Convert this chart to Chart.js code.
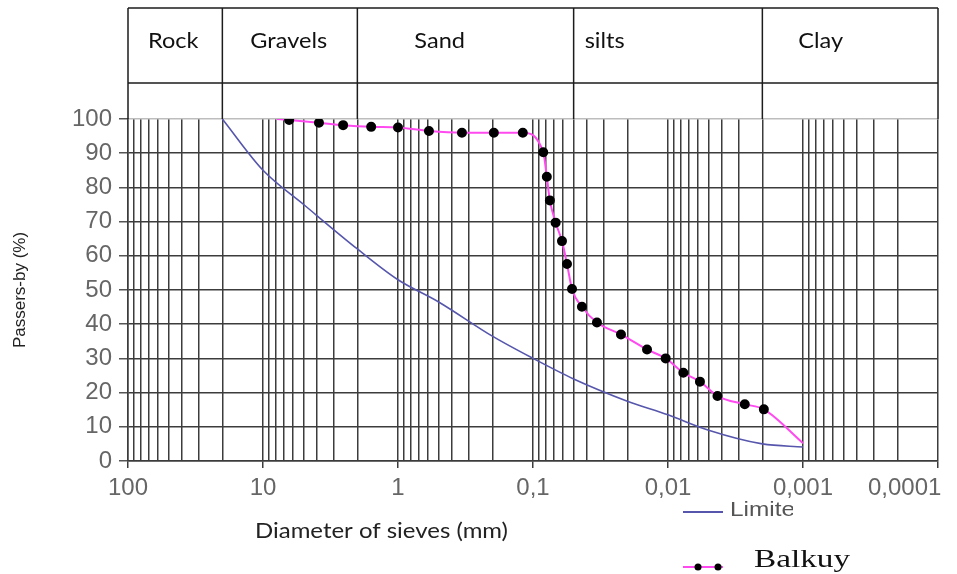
<!DOCTYPE html>
<html>
<head>
<meta charset="utf-8">
<script src="https://cdn.jsdelivr.net/npm/chart.js@4.4.1/dist/chart.umd.min.js"></script>
<style>
  html, body { margin: 0; padding: 0; background: #fff; }
  #wrap { width: 957px; height: 574px; }
</style>
</head>
<body>
<div id="wrap"><canvas id="grainChart" width="957" height="574"></canvas></div>
<script>
// sieve diameter (mm) and passing (%)
const balkuyDiam = [7.9, 6.4, 3.85, 2.55, 1.58, 1.0, 0.59, 0.336, 0.195, 0.119, 0.084, 0.079, 0.075, 0.068, 0.061, 0.056, 0.0514, 0.0434, 0.0336, 0.0223, 0.0143, 0.0104, 0.0077, 0.0058, 0.0043, 0.0027, 0.00195, 0.001];
const balkuyPass = [100, 99.7, 98.9, 98.2, 97.7, 97.5, 96.5, 96.0, 96.0, 96.0, 90.3, 83.1, 76.2, 69.7, 64.3, 57.6, 50.3, 45.1, 40.5, 37.0, 32.6, 30.0, 25.8, 23.2, 19.0, 16.6, 15.1, 5.2];

const limitDiam = [20, 10, 5, 2, 1, 0.5, 0.2, 0.1, 0.05, 0.02, 0.01, 0.005, 0.002, 0.001];
const limitPass = [100, 85, 75, 62, 53, 46.5, 36.5, 30, 24, 17.5, 13.5, 9, 5, 4.1];

const decadeValues = [100, 10, 1, 0.1, 0.01, 0.001, 0.0001];
const xTickLabels = ['100', '10', '1', '0,1', '0,01', '0,001', '0,0001'];

const zoneLabels = ['Rock', 'Gravels', 'Sand', 'silts', 'Clay'];
const zoneBounds = [100, 20, 2, 0.05, 0.002, 0.0001];

const legendLabels = ['Limite fuseau', 'Balkuy'];

// text inset of each zone label from its column's left edge (px)
const zoneInset = [20, 28, 57, 11, 36];

const BLUE = '#5656ad';
const PINK = '#ff4af0';
const GRID = '#3c3c3c';

function isDecade(v) {
  return decadeValues.findIndex(d => Math.abs(v - d) / d < 1e-6);
}

function logGridTicks() {
  const out = [];
  for (let e = -4; e <= 1; e++) {
    for (let m = 1; m <= 9; m++) {
      out.push({ value: Number((m * Math.pow(10, e)).toPrecision(6)) });
    }
  }
  out.push({ value: 100 });
  return out;
}

const toPoints = (xs, ys) => xs.map((x, i) => ({ x: x, y: ys[i] }));

// the source image is stretched sideways, so text drawn here gets a horizontal scale
function wideText(ctx, text, x, y, sx) {
  ctx.save();
  ctx.translate(x, y);
  ctx.scale(sx, 1);
  ctx.fillText(text, 0, 0);
  ctx.restore();
}

const headerPlugin = {
  id: 'soilHeader',
  afterDraw(chart) {
    const ctx = chart.ctx;
    const xs = chart.scales.x;
    const top = 8, mid = 83, bottom = chart.chartArea.top;
    const xPos = zoneBounds.map(v => xs.getPixelForValue(v));
    const first = xPos[0], last = xPos[xPos.length - 1];

    ctx.save();
    ctx.strokeStyle = '#1c1c1c';
    ctx.lineWidth = 1.5;
    ctx.beginPath();
    ctx.moveTo(first, top); ctx.lineTo(last, top);
    ctx.moveTo(first, mid); ctx.lineTo(last, mid);
    xPos.forEach(x => { ctx.moveTo(x, top); ctx.lineTo(x, bottom); });
    ctx.stroke();

    ctx.fillStyle = '#111';
    ctx.font = '21px Lato, "Open Sans", sans-serif';
    ctx.textBaseline = 'middle';
    ctx.textAlign = 'left';
    zoneLabels.forEach((t, i) => wideText(ctx, t, xPos[i] + zoneInset[i], 41, 1.12));

    // x axis title, sits left of centre like the original
    const xTitle = 'Diameter of sieves (mm)';
    ctx.fillStyle = '#222';
    ctx.font = '21px Lato, "Open Sans", sans-serif';
    wideText(ctx, xTitle, 255, 531, 253 / ctx.measureText(xTitle).width);

    // legend: first entry is cut off in the source figure
    ctx.strokeStyle = BLUE;
    ctx.lineWidth = 2;
    ctx.beginPath();
    ctx.moveTo(683, 512); ctx.lineTo(723, 512);
    ctx.stroke();

    const words = legendLabels[0].split(' ');
    ctx.save();
    ctx.beginPath();
    ctx.rect(680, 496, 113, 32);
    ctx.clip();
    ctx.fillStyle = '#555';
    ctx.font = '21px "Liberation Sans", Arial, sans-serif';
    wideText(ctx, words[0], 730, 510, 1.16);
    ctx.fillStyle = '#aaa';
    wideText(ctx, words[1], 730, 539, 1.16);
    ctx.restore();

    ctx.strokeStyle = PINK;
    ctx.lineWidth = 2;
    ctx.beginPath();
    ctx.moveTo(683, 567); ctx.lineTo(723, 567);
    ctx.stroke();
    ctx.fillStyle = '#000';
    [698, 718].forEach(x => {
      ctx.beginPath();
      ctx.arc(x, 567, 3.5, 0, Math.PI * 2);
      ctx.fill();
    });
    ctx.font = '26px "Liberation Serif", "Times New Roman", serif';
    ctx.fillStyle = '#111';
    ctx.textBaseline = 'alphabetic';
    wideText(ctx, legendLabels[1], 754, 567, 1.28);
    ctx.restore();
  }
};

const tickFont = { family: '"Liberation Sans", Arial, sans-serif', size: 24 };

new Chart(document.getElementById('grainChart').getContext('2d'), {
  type: 'line',
  data: {
    datasets: [
      {
        label: legendLabels[0],
        data: toPoints(limitDiam, limitPass),
        borderColor: BLUE,
        borderWidth: 1.6,
        pointRadius: 0,
        cubicInterpolationMode: 'monotone',
        fill: false
      },
      {
        label: legendLabels[1],
        data: toPoints(balkuyDiam, balkuyPass),
        borderColor: PINK,
        borderWidth: 2,
        backgroundColor: '#000',
        pointBackgroundColor: '#000',
        pointBorderColor: '#000',
        pointRadius: balkuyDiam.map((d, i) => (i === 0 || i === balkuyDiam.length - 1) ? 0 : 4),
        cubicInterpolationMode: 'monotone',
        fill: false
      }
    ]
  },
  options: {
    responsive: false,
    animation: false,
    events: [],
    layout: { padding: { top: 119, right: 19, left: 0, bottom: 0 } },
    plugins: {
      legend: { display: false },
      tooltip: { enabled: false }
    },
    scales: {
      x: {
        type: 'logarithmic',
        reverse: true,
        min: 0.0001,
        max: 100,
        afterBuildTicks: scale => { scale.ticks = logGridTicks(); },
        afterFit: scale => {
          scale.height = 113;
          scale.paddingLeft = 0;
          scale.paddingRight = 0;
        },
        ticks: {
          autoSkip: false,
          maxRotation: 0,
          minRotation: 0,
          padding: 6,
          color: '#666',
          font: tickFont,
          callback: value => {
            const i = isDecade(value);
            if (i < 0) return '';
            // last label is pushed inward so it stays on the page
            return i === decadeValues.length - 1 ? xTickLabels[i] + '          ' : xTickLabels[i];
          }
        },
        grid: {
          color: GRID,
          lineWidth: 1.5,
          tickLength: 7,
          tickColor: c => isDecade(c.tick.value) >= 0 ? GRID : 'rgba(0,0,0,0)'
        },
        border: { color: GRID, width: 1.5 },
        title: { display: false }
      },
      y: {
        min: 0,
        max: 100,
        afterFit: scale => {
          scale.width = 128;
          scale.paddingTop = 0;
          scale.paddingBottom = 0;
        },
        ticks: {
          stepSize: 10,
          padding: 7,
          color: '#666',
          font: tickFont
        },
        grid: {
          color: c => c.tick.value === 100 ? '#bdbdbd' : GRID,
          lineWidth: 1.5,
          tickLength: 9,
          tickColor: '#555'
        },
        border: { color: GRID, width: 1.5 },
        title: {
          display: true,
          text: 'Passers-by (%)',
          color: '#222',
          padding: { top: 10, bottom: 0 },
          font: { family: '"Liberation Sans", Arial, sans-serif', size: 17 }
        }
      }
    }
  },
  plugins: [headerPlugin]
});
</script>
</body>
</html>
